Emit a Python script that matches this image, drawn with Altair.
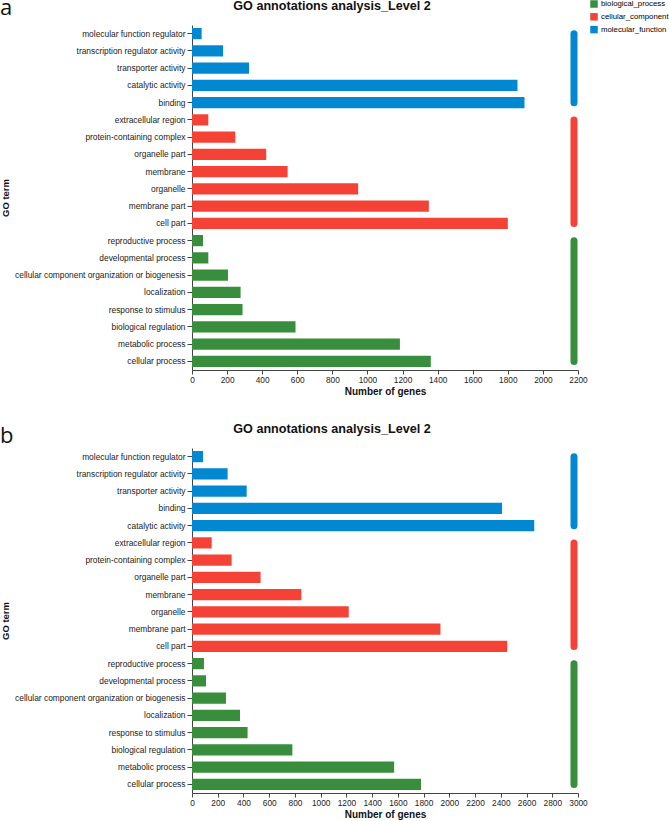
import altair as alt
import pandas as pd

CATS = ["biological_process", "cellular_component", "molecular_function"]
COLORS = ["#388E3C", "#F44336", "#0288D1"]

TERMS_A = ["molecular function regulator", "transcription regulator activity", "transporter activity",
           "catalytic activity", "binding", "extracellular region", "protein-containing complex",
           "organelle part", "membrane", "organelle", "membrane part", "cell part",
           "reproductive process", "developmental process",
           "cellular component organization or biogenesis", "localization", "response to stimulus",
           "biological regulation", "metabolic process", "cellular process"]
VALUES_A = [55, 177, 325, 1855, 1895, 93, 247, 423, 545, 947, 1350, 1800,
            63, 93, 205, 277, 288, 590, 1185, 1361]

TERMS_B = ["molecular function regulator", "transcription regulator activity", "transporter activity",
           "binding", "catalytic activity", "extracellular region", "protein-containing complex",
           "organelle part", "membrane", "organelle", "membrane part", "cell part",
           "reproductive process", "developmental process",
           "cellular component organization or biogenesis", "localization", "response to stimulus",
           "biological regulation", "metabolic process", "cellular process"]
VALUES_B = [86, 277, 425, 2410, 2660, 153, 308, 533, 850, 1218, 1931, 2450,
            93, 109, 264, 373, 432, 780, 1571, 1780]

GROUP_OF_TERM = (["molecular_function"] * 5 + ["cellular_component"] * 7 + ["biological_process"] * 8)

XMAX_A = 2200
XMAX_B = 3000
TITLE = "GO annotations analysis_Level 2"

W = 386
H = 345
FONT = "Liberation Sans"


def panel(terms, values, xmax, letter, letter_y):
    df = pd.DataFrame({"term": terms, "count": values, "category": GROUP_OF_TERM})
    rows = []
    for c in CATS:
        sub = df[df["category"] == c]
        rows.append({"category": c, "first": sub["term"].iloc[0], "last": sub["term"].iloc[-1]})
    gdf = pd.DataFrame(rows)
    yscale = alt.Scale(domain=terms, paddingInner=0.35, paddingOuter=0.175)
    cscale = alt.Scale(domain=CATS, range=COLORS)

    bars = alt.Chart(df).mark_bar().encode(
        y=alt.Y("term:N", sort=None, scale=yscale,
                axis=alt.Axis(title="GO term", labelFontSize=8.4, tickSize=5, labelPadding=2,
                              titlePadding=4, titleFontSize=9.5)),
        x=alt.X("count:Q", scale=alt.Scale(domain=[0, xmax], nice=False),
                axis=alt.Axis(title="Number of genes", values=list(range(0, xmax + 1, 200)),
                              format="d", labelOverlap=False, labelFlush=False,
                              labelFontSize=8.3, tickSize=4, labelPadding=1, titlePadding=3,
                              titleFontSize=10)),
        color=alt.Color("category:N", scale=cscale,
                        legend=alt.Legend(title=None, orient="none", legendX=398, legendY=-25,
                                          symbolType="square", symbolSize=56, symbolStrokeWidth=0,
                                          labelFontSize=7.8, labelFont=FONT, labelOffset=3,
                                          rowPadding=4.8, padding=0)),
    )
    rules = alt.Chart(gdf).mark_rule(strokeWidth=7, strokeCap="round").encode(
        y=alt.Y("first:N"),
        y2="last:N",
        x=alt.value(W - 4),
        color=alt.Color("category:N", scale=cscale, legend=None),
    )
    lab = alt.Chart(pd.DataFrame({"t": [letter]})).mark_text(
        font="Open Sans", fontSize=22, align="left", baseline="alphabetic", color="#111"
    ).encode(text="t:N", x=alt.value(-192), y=alt.value(letter_y))
    ttl = alt.Chart(pd.DataFrame({"t": [TITLE]})).mark_text(
        font=FONT, fontSize=12.6, fontWeight="bold", align="center", baseline="alphabetic",
        color="#111"
    ).encode(text="t:N", x=alt.value(W / 2 - 53), y=alt.value(-14.7))

    return alt.layer(bars, rules, lab, ttl).properties(width=W, height=H)


top = panel(TERMS_A, VALUES_A, XMAX_A, "a", -10)
bottom = panel(TERMS_B, VALUES_B, XMAX_B, "b", -5.4)

chart = alt.vconcat(top, bottom, spacing=26).configure(
    font=FONT, padding={"top": -3, "left": 0, "right": 0, "bottom": 0}
).configure_view(stroke=None).configure_axis(
    labelFont=FONT, titleFont=FONT, labelColor="#222", titleColor="#111",
    domainColor="#444", tickColor="#444", grid=False, titleFontWeight="bold"
)

chart.save("out.html", embed_options={"renderer": "svg", "actions": False})
